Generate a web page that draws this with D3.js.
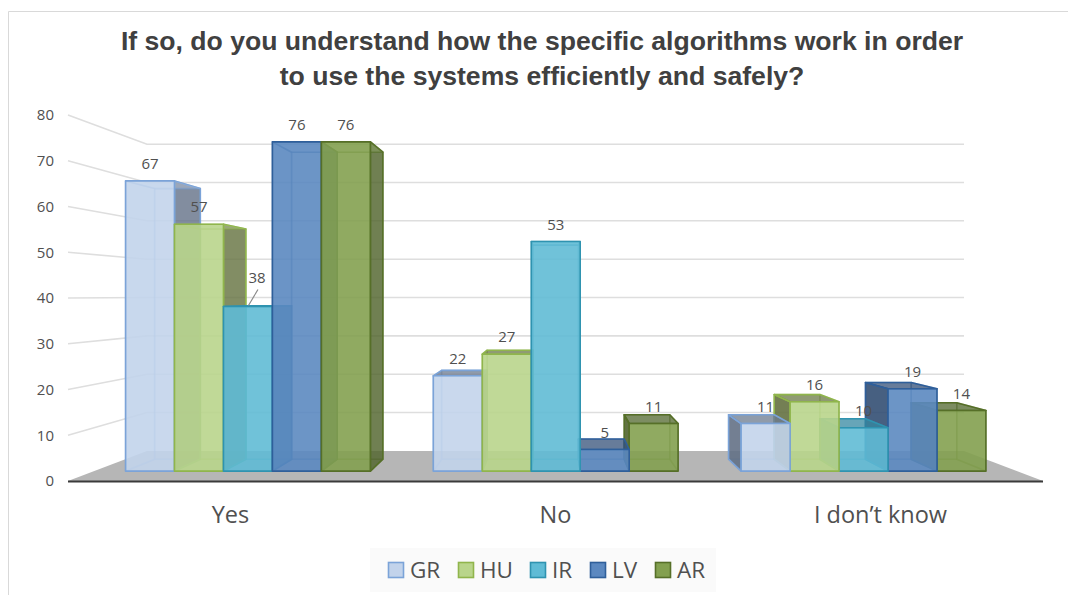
<!DOCTYPE html>
<html><head><meta charset="utf-8">
<script src="https://cdn.jsdelivr.net/npm/d3@7"></script>
<style>html,body{margin:0;padding:0;background:#fff;overflow:hidden}svg{display:block}</style>
</head><body><svg id="c" width="1068" height="595"></svg>
<script>
const categories = ["Yes", "No", "I don’t know"];
const seriesNames = ["GR", "HU", "IR", "LV", "AR"];
const GR = [67, 22, 11];
const HU = [57, 27, 16];
const IR = [38, 53, 10];
const LV = [76, 5, 19];
const AR = [76, 11, 14];
const yTicks = [0, 10, 20, 30, 40, 50, 60, 70, 80];
const titleLines = ["If so, do you understand how the specific algorithms work in order", "to use the systems efficiently and safely?"];
const seriesValues = [GR, HU, IR, LV, AR];
const fills = ["#c2d3eb", "#b9d58b", "#5fbbd5", "#5b88c0", "#83a04f"];
const strokes = ["#7ba3d8", "#90b54c", "#2f93b0", "#2f5f9a", "#566f28"];
const darks = ["#5d6b80", "#5f6b3c", "#2f7f98", "#2f4a6e", "#4c5f2a"];

const svg = d3.select("#c");
const font = "'Open Sans', sans-serif";
const x0 = d3.scaleBand().domain(categories).range([68, 1043]);
const x1 = d3.scaleBand().domain(seriesNames).range([33.5, 292]);
const y = d3.scaleLinear().domain([0, 80]).range([481, 115]);
const VX = 555.5, VY = 295;
const S_BACKWALL = 0.838, S_FRONT = 0.947, S_BACK = 0.883;
const P = (px, v, s) => [VX + (px - VX) * s, VY + (y(v) - VY) * s];
const poly = pts => pts.map(p => p.map(n => n.toFixed(1)).join(",")).join(" ");

// frame
svg.append("path").attr("d", "M8.5,595V11.5H1068").attr("fill", "none").attr("stroke", "#d9d9d9");

// title
svg.append("g").selectAll("text").data(titleLines).join("text")
  .attr("x", 542).attr("y", (d, i) => 50 + i * 35).attr("text-anchor", "middle")
  .attr("font-family", "'Liberation Sans', Arial, sans-serif").attr("font-weight", 700)
  .attr("font-size", 26.6).attr("fill", "#404040").text(d => d);

// walls gridlines
const grid = svg.append("g").attr("fill", "none").attr("stroke", "#dedede").attr("stroke-width", 1.6);
yTicks.filter(t => t > 0).forEach(t => {
  const a = P(68, t, 1), b = P(68, t, S_BACKWALL), c = P(1043, t, S_BACKWALL);
  grid.append("polyline").attr("points", poly([a, b, c]));
});
// floor
svg.append("polygon").attr("fill", "#b6b6b6")
  .attr("points", poly([P(68, 0, 1), P(68, 0, S_BACKWALL), P(1043, 0, S_BACKWALL), P(1043, 0, 1)]));
svg.append("line").attr("x1", 68).attr("x2", 1043).attr("y1", 481.5).attr("y2", 481.5)
  .attr("stroke", "#3a3a3a").attr("stroke-width", 2);

// bars, painter's order: farthest from the vanishing line first
const bars = [];
categories.forEach((c, ci) => seriesNames.forEach((n, si) => {
  const left = x0(c) + x1(n), right = left + x1.bandwidth();
  bars.push({c, n, si, v: seriesValues[si][ci], left, right, mid: (left + right) / 2});
}));
bars.sort((a, b) => Math.abs(b.mid - VX) - Math.abs(a.mid - VX));
const gBars = svg.append("g");
bars.forEach(b => {
  const g = gBars.append("g").attr("stroke", strokes[b.si]).attr("stroke-width", 1.6).attr("stroke-linejoin", "round");
  const f = fills[b.si], dk = darks[b.si];
  const fl = P(b.left, b.v, S_FRONT), fr = P(b.right, b.v, S_FRONT);
  const bl = P(b.left, b.v, S_BACK), br = P(b.right, b.v, S_BACK);
  const fl0 = P(b.left, 0, S_FRONT), fr0 = P(b.right, 0, S_FRONT);
  const bl0 = P(b.left, 0, S_BACK), br0 = P(b.right, 0, S_BACK);
  const face = (pts, fill, op, sop) => g.append("polygon").attr("points", poly(pts))
    .attr("fill", fill).attr("fill-opacity", op).attr("stroke-opacity", sop);
  const rightVisible = b.right < VX, leftVisible = b.left > VX, topVisible = b.v < 39;
  face([bl, br, br0, bl0], f, 0.3, 0.3);
  face([bl0, br0, fr0, fl0], f, 0.3, 0.3);
  if (!leftVisible) face([fl, bl, bl0, fl0], f, 0.35, 0.35);
  if (!rightVisible) face([fr, br, br0, fr0], f, 0.35, 0.35);
  if (leftVisible) face([fl, bl, bl0, fl0], dk, 0.85, 1);
  if (rightVisible) face([fr, br, br0, fr0], dk, 0.75, 1);
  face([fl, fr, br, bl], topVisible ? dk : f, topVisible ? 0.65 : 0.35, topVisible ? 1 : 0.5);
  face([fl, fr, fr0, fl0], f, 0.85, 1);
});

// data labels
const LIFTED = "Yes|IR";
const labels = svg.append("g").attr("font-family", font).attr("font-size", 15).attr("fill", "#505050").attr("text-anchor", "middle");
bars.forEach(b => {
  const top = P(b.mid, b.v, S_FRONT);
  const lifted = b.c + "|" + b.n === LIFTED;
  const cy = top[1] - (lifted ? 29 : 17);
  labels.append("text").attr("x", lifted ? top[0] + 9 : top[0]).attr("y", cy).attr("dy", "0.35em").text(b.v);
  if (lifted) svg.append("line").attr("x1", top[0] + 10).attr("y1", cy + 12).attr("x2", top[0] + 0.5).attr("y2", top[1] - 1)
    .attr("stroke", "#8a8a8a").attr("stroke-width", 1.2);
});

// axes
const yAxis = svg.append("g").attr("transform", "translate(54,0)")
  .call(d3.axisLeft(y).tickValues(yTicks).tickSize(0).tickPadding(0));
yAxis.select(".domain").remove();
yAxis.selectAll("text").attr("font-family", font).attr("font-size", 15).attr("fill", "#505050");
const xAxis = svg.append("g").attr("transform", "translate(0,506)")
  .call(d3.axisBottom(x0).tickSize(0).tickPadding(0));
xAxis.select(".domain").remove();
xAxis.selectAll("text").attr("font-family", font).attr("font-size", 23.5).attr("fill", "#505050");

// legend
svg.append("rect").attr("x", 370).attr("y", 548).attr("width", 346).attr("height", 44).attr("fill", "#fafafa");
const legendX = d3.scaleOrdinal().domain(seriesNames).range([388, 458, 530, 590, 655]);
const leg = svg.append("g").selectAll("g").data(seriesNames).join("g")
  .attr("transform", d => `translate(${legendX(d)},562)`);
leg.append("rect").attr("x", 0.5).attr("y", 0.5).attr("width", 15).attr("height", 15)
  .attr("fill", (d, i) => fills[i]).attr("stroke", (d, i) => strokes[i]).attr("stroke-width", 1.6);
leg.append("text").attr("x", 22).attr("y", 16).attr("font-family", font).attr("font-size", 22.5)
  .attr("fill", "#505050").text(d => d);
</script></body></html>
